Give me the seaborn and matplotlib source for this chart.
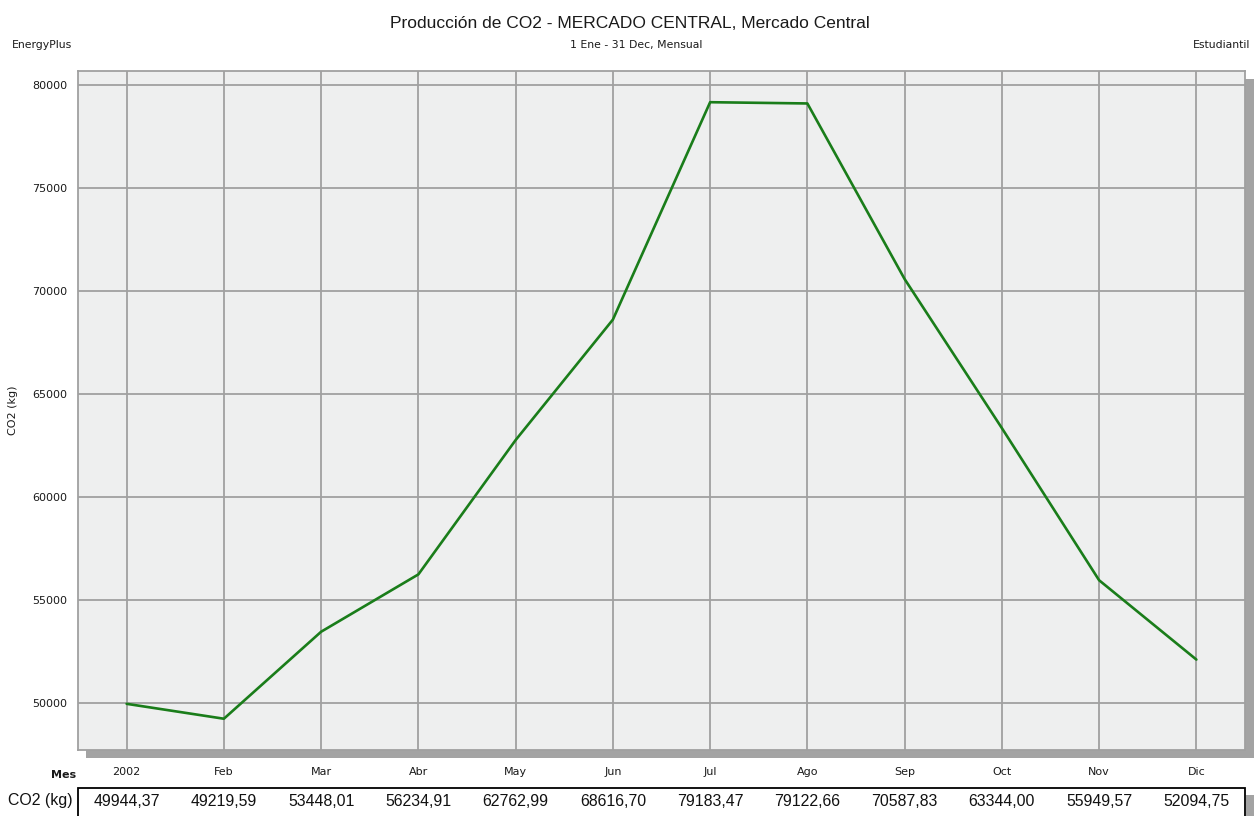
import matplotlib
matplotlib.use("Agg")
import matplotlib.pyplot as plt
import matplotlib.patches as mpatches
import matplotlib.transforms as mtransforms
import seaborn as sns
import pandas as pd

# Monthly CO2 production (kg)
months = ["2002", "Feb", "Mar", "Abr", "May", "Jun", "Jul", "Ago", "Sep", "Oct", "Nov", "Dic"]
co2_kg = [49944.37, 49219.59, 53448.01, 56234.91, 62762.99, 68616.70,
          79183.47, 79122.66, 70587.83, 63344.00, 55949.57, 52094.75]
y_ticks = [50000, 55000, 60000, 65000, 70000, 75000, 80000]

title = "Producción de CO2 - MERCADO CENTRAL, Mercado Central"
subtitle = "1 Ene - 31 Dec, Mensual"
row_label = "CO2 (kg)"

sns.set_style("whitegrid")
plt.rcParams["font.family"] = ["Liberation Sans", "DejaVu Sans"]
SMALL = ["DejaVu Sans"]

W, H = 1254, 816
fig = plt.figure(figsize=(W / 100, H / 100), dpi=100)
fig.patch.set_facecolor("white")

def fx(px):
    return px / W

def fy(py):
    return 1 - py / H

left, right, top, bottom = 78, 1245, 71, 750
ax = fig.add_axes([fx(left), fy(bottom), fx(right - left), fy(top) - fy(bottom)])

# drop shadow behind the plot area
shadow = mpatches.Rectangle((fx(left + 8), fy(bottom + 8)), fx(right - left + 1), fy(top) - fy(bottom),
                            transform=fig.transFigure, facecolor="#a3a3a3", edgecolor="none", zorder=-5)
fig.patches.append(shadow)

df = pd.DataFrame({"pos": range(len(months)), "co2": co2_kg})
sns.lineplot(data=df, x="pos", y="co2", ax=ax, color="#1a7d1a", linewidth=1.9, zorder=3)

ax.set_facecolor("#eeefef")
ax.set_xlim(-0.5, len(months) - 0.5)
ax.set_ylim(47700, 80700)
ax.set_xticks(range(len(months)))
ax.set_xticklabels(months, family=SMALL)
ax.set_yticks(y_ticks)
ax.set_yticklabels([str(v) for v in y_ticks], family=SMALL)
ax.grid(True, color="#a0a0a0", linewidth=1.3)
ax.set_axisbelow(True)
for s in ax.spines.values():
    s.set_color("#a0a0a0")
    s.set_linewidth(1.3)
ax.tick_params(axis="x", length=9, width=1.3, color="#a0a0a0", pad=3, labelsize=8, labelcolor="#1a1a1a")
ax.tick_params(axis="y", length=5, width=1.3, color="#a0a0a0", pad=3, labelsize=8, labelcolor="#1a1a1a")
ax.set_xlabel("")
ax.set_ylabel("CO2 (kg)", fontsize=8, color="#1a1a1a", family=SMALL)
ax.yaxis.set_label_coords((18 - left) / (right - left), 0.5)

fig.text(fx(630), fy(24), title, ha="center", va="center", fontsize=12.5, color="#1a1a1a")
fig.text(fx(636), fy(45), subtitle, ha="center", va="center", fontsize=7.8, color="#1a1a1a", family=SMALL)
fig.text(fx(12), fy(45), "EnergyPlus", ha="left", va="center", fontsize=7.8, color="#1a1a1a", family=SMALL)
fig.text(fx(1250), fy(45), "Estudiantil", ha="right", va="center", fontsize=7.8, color="#1a1a1a", family=SMALL)
fig.text(fx(76), fy(775), "Mes", ha="right", va="center", fontsize=8, fontweight="bold", color="#1a1a1a",
         family=SMALL)

# value table under the chart
tbl_shadow = mpatches.Rectangle((fx(1246), fy(830)), fx(8), fy(795) - fy(830),
                                transform=fig.transFigure, facecolor="#a3a3a3", edgecolor="none", zorder=-5)
fig.patches.append(tbl_shadow)
tbl = mpatches.Rectangle((fx(left), fy(830)), fx(right - left), fy(788) - fy(830),
                         transform=fig.transFigure, facecolor="white", edgecolor="black", linewidth=1.3,
                         zorder=-4)
fig.patches.append(tbl)
blend = mtransforms.blended_transform_factory(ax.transData, fig.transFigure)
for i, v in enumerate(co2_kg):
    ax.text(i, fy(801), f"{v:.2f}".replace(".", ","), transform=blend, ha="center", va="center",
            fontsize=11.4, color="#111111", clip_on=False)
fig.text(fx(73), fy(801), row_label, ha="right", va="center", fontsize=11.4, color="#111111")

fig.savefig("out.png", dpi=100, facecolor="white")
